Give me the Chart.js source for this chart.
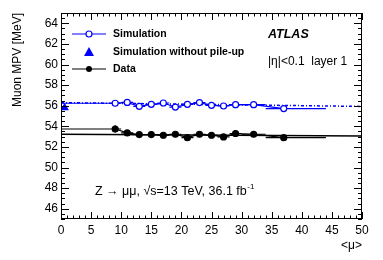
<!DOCTYPE html>
<html><head><meta charset="utf-8">
<script src="https://cdn.jsdelivr.net/npm/chart.js@4/dist/chart.umd.min.js"></script>
<style>html,body{margin:0;padding:0;background:#fff}#wrap{width:383px;height:260px}</style>
</head><body><div id="wrap"><canvas id="c" width="383" height="260"></canvas></div>
<script>
// ---- data ----
const mu      = [9, 11, 13, 15, 17, 19, 21, 23, 25, 27, 29, 32, 37];
const muLow   = [0, 10, 12, 14, 16, 18, 20, 22, 24, 26, 28, 30, 34];
const muHigh  = [10, 12, 14, 16, 18, 20, 22, 24, 26, 28, 30, 34, 44];
const simMPV  = [56.24, 56.32, 55.94, 56.13, 56.26, 55.87, 56.13, 56.30, 56.04, 55.97, 56.10, 56.10, 55.72];
const simErr  = [0.05, 0.04, 0.04, 0.04, 0.04, 0.04, 0.04, 0.04, 0.04, 0.04, 0.05, 0.05, 0.07];
const dataMPV = [53.74, 53.36, 53.20, 53.20, 53.13, 53.23, 52.90, 53.23, 53.13, 52.97, 53.30, 53.23, 52.90];
const dataErr = [0.35, 0.08, 0.05, 0.04, 0.04, 0.04, 0.05, 0.05, 0.05, 0.06, 0.07, 0.08, 0.10];
const noPUmu  = [0.6];
const noPUMPV = [55.8];
const fitMu   = [0, 50];
const simFit  = [56.30, 55.93];
const dataFit = [53.22, 53.05];
const xTicks  = [0, 5, 10, 15, 20, 25, 30, 35, 40, 45, 50];
const yTicks  = [46, 48, 50, 52, 54, 56, 58, 60, 62, 64];
const legendLabels = ['Simulation', 'Simulation without pile-up', 'Data'];

const BLUE = '#0000ff';
const FONT = '"Liberation Sans", Arial, Helvetica, sans-serif';
const pts = (xs, ys) => xs.map((v, i) => ({x: v, y: ys[i]}));

const deco = {
  id: 'deco',
  beforeDatasetsDraw(chart) {
    const {ctx, chartArea: a, scales: {x, y}} = chart;
    ctx.save();
    ctx.beginPath(); ctx.rect(a.left, a.top, a.right - a.left, a.bottom - a.top); ctx.clip();
    const bars = (vals, errs, col) => {
      ctx.strokeStyle = col; ctx.lineWidth = 1.2;
      vals.forEach((v, i) => {
        const py = y.getPixelForValue(v), px = x.getPixelForValue(mu[i]);
        ctx.beginPath();
        ctx.moveTo(x.getPixelForValue(muLow[i]), py);
        ctx.lineTo(x.getPixelForValue(muHigh[i]), py);
        ctx.moveTo(px, y.getPixelForValue(v - errs[i]));
        ctx.lineTo(px, y.getPixelForValue(v + errs[i]));
        ctx.stroke();
      });
    };
    bars(simMPV, simErr, BLUE);
    bars(dataMPV, dataErr, '#000');
    ctx.restore();
  },
  afterDraw(chart) {
    const {ctx, chartArea: a, scales: {x, y}} = chart;
    ctx.save();
    // frame
    ctx.strokeStyle = '#000'; ctx.lineWidth = 1;
    ctx.strokeRect(a.left + 0.5, a.top + 0.5, a.right - a.left - 1, a.bottom - a.top - 1);
    // ticks (inside, all four sides)
    ctx.beginPath();
    for (let v = 0; v <= 50; v += 1) {
      const px = Math.round(x.getPixelForValue(v)) + 0.5;
      const len = (v % 5 === 0) ? 7 : 3.5;
      ctx.moveTo(px, a.bottom); ctx.lineTo(px, a.bottom - len);
      ctx.moveTo(px, a.top); ctx.lineTo(px, a.top + len);
    }
    for (let v = 45; v <= 65; v += 0.5) {
      const py = Math.round(y.getPixelForValue(v)) + 0.5;
      const len = (v % 2 === 0) ? 8 : 4;
      ctx.moveTo(a.left, py); ctx.lineTo(a.left + len, py);
      ctx.moveTo(a.right, py); ctx.lineTo(a.right - len, py);
    }
    ctx.stroke();

    // legend
    ctx.lineWidth = 1.2;
    const lx0 = 72, lx1 = 106, mx = 89;
    const rows = [34, 52, 69];
    ctx.strokeStyle = BLUE;
    ctx.beginPath(); ctx.moveTo(lx0, rows[0]); ctx.lineTo(lx1, rows[0]); ctx.stroke();
    ctx.fillStyle = '#fff';
    ctx.beginPath(); ctx.arc(mx, rows[0], 3, 0, Math.PI * 2); ctx.fill(); ctx.stroke();
    ctx.fillStyle = BLUE;
    ctx.beginPath(); ctx.moveTo(mx, rows[1] - 5); ctx.lineTo(mx + 5, rows[1] + 4); ctx.lineTo(mx - 5, rows[1] + 4); ctx.closePath(); ctx.fill();
    ctx.strokeStyle = '#000'; ctx.fillStyle = '#000';
    ctx.beginPath(); ctx.moveTo(lx0, rows[2]); ctx.lineTo(lx1, rows[2]); ctx.stroke();
    ctx.beginPath(); ctx.arc(mx, rows[2], 3, 0, Math.PI * 2); ctx.fill();

    ctx.textBaseline = 'middle'; ctx.textAlign = 'left';
    ctx.font = 'bold 10.5px ' + FONT;
    legendLabels.forEach((t, i) => ctx.fillText(t, 113, rows[i]));

    ctx.font = 'italic bold 12.5px ' + FONT;
    ctx.fillText('ATLAS', 268, 35);
    ctx.font = '12px ' + FONT;
    ctx.fillText('|\u03B7|<0.1  layer 1', 268, 62);

    // process text
    ctx.font = '12.5px ' + FONT;
    const main = 'Z \u2192 \u03BC\u03BC, \u221As=13 TeV, 36.1 fb';
    ctx.fillText(main, 95, 192);
    const w = ctx.measureText(main).width;
    ctx.font = '8px ' + FONT;
    ctx.fillText('-1', 95 + w + 0.5, 187);

    // axis titles
    ctx.font = '12px ' + FONT;
    ctx.textAlign = 'right';
    ctx.fillText('<\u03BC>', a.right, 246);
    ctx.save();
    ctx.translate(18, a.top);
    ctx.rotate(-Math.PI / 2);
    ctx.textAlign = 'right';
    ctx.fillText('Muon MPV [MeV]', 0, 0);
    ctx.restore();
    ctx.restore();
  }
};

new Chart(document.getElementById('c'), {
  type: 'line',
  data: {
    datasets: [
      { label: legendLabels[0], data: pts(mu, simMPV), borderColor: BLUE, borderWidth: 1.2,
        pointRadius: 3, pointBackgroundColor: '#fff', pointBorderColor: BLUE, pointBorderWidth: 1.2, tension: 0 },
      { label: legendLabels[1], data: pts(noPUmu, noPUMPV), showLine: false, pointStyle: 'triangle', clip: 0,
        pointRadius: 5, pointBackgroundColor: BLUE, pointBorderColor: BLUE, pointBorderWidth: 0 },
      { label: legendLabels[2], data: pts(mu, dataMPV), borderColor: '#000', borderWidth: 1.2,
        pointRadius: 3, pointBackgroundColor: '#000', pointBorderColor: '#000', tension: 0 },
      { label: 'sim fit', data: pts(fitMu, simFit), borderColor: BLUE, borderWidth: 1.5,
        borderDash: [3, 2, 1, 2], pointRadius: 0 },
      { label: 'data fit', data: pts(fitMu, dataFit), borderColor: '#000', borderWidth: 1.5, pointRadius: 0 }
    ]
  },
  options: {
    responsive: false, animation: false, devicePixelRatio: 1,
    layout: { padding: { top: 13, right: 21, left: 0, bottom: 0 } },
    plugins: { legend: { display: false }, tooltip: { enabled: false } },
    scales: {
      x: { type: 'linear', min: 0, max: 50,
        grid: { display: false, drawTicks: false }, border: { display: false },
        afterBuildTicks: s => { s.ticks = xTicks.map(v => ({ value: v })); },
        afterFit: s => { s.height = 41; },
        ticks: { font: { family: FONT, size: 12 }, color: '#000', padding: 4, maxRotation: 0, autoSkip: false } },
      y: { type: 'linear', min: 45, max: 65,
        grid: { display: false, drawTicks: false }, border: { display: false },
        afterBuildTicks: s => { s.ticks = yTicks.map(v => ({ value: v })); },
        afterFit: s => { s.width = 61; },
        ticks: { font: { family: FONT, size: 12 }, color: '#000', padding: 3, autoSkip: false } }
    }
  },
  plugins: [deco]
});
</script></body></html>
